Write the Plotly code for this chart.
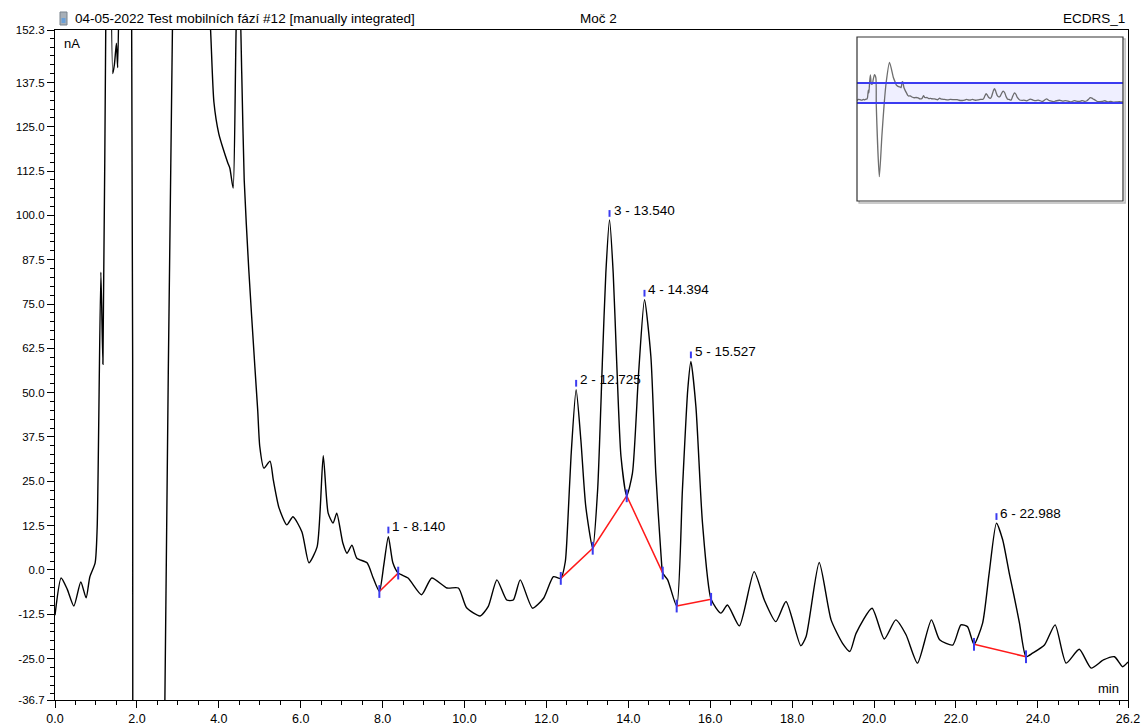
import plotly.graph_objects as go

# ---------------- data ----------------
time_min = [0.00, 0.15, 0.30, 0.46, 0.63, 0.76, 0.85, 0.98, 1.03, 1.12, 1.17, 1.25, 1.32, 1.41, 1.45,
            1.50, 1.53, 1.58, 1.72, 1.86, 1.90, 2.20, 2.45, 2.68, 2.87, 3.20, 3.60, 3.80, 3.88, 4.00,
            4.10, 4.22, 4.27, 4.35, 4.44, 4.50, 4.56, 4.62, 4.73, 4.88, 4.95, 5.00, 5.10, 5.25, 5.33,
            5.47, 5.66, 5.81, 6.03, 6.20, 6.40, 6.55, 6.67, 6.79, 6.88, 7.03, 7.13, 7.25, 7.37, 7.62,
            7.77, 7.92, 8.03, 8.14, 8.25, 8.38, 8.62, 8.95, 9.20, 9.57, 9.85, 10.05, 10.38, 10.58, 10.79,
            11.03, 11.19, 11.36, 11.66, 11.93, 12.17, 12.35, 12.46, 12.52, 12.60, 12.725, 12.84, 12.96, 13.13, 13.25,
            13.37, 13.45, 13.54, 13.63, 13.71, 13.82, 13.96, 14.10, 14.25, 14.394, 14.55, 14.67, 14.80, 14.84, 14.96,
            15.18, 15.32, 15.45, 15.527, 15.65, 15.81, 16.02, 16.26, 16.42, 16.71, 17.07, 17.32, 17.60, 17.85, 18.21,
            18.34, 18.66, 18.95, 19.23, 19.41, 19.56, 19.95, 20.25, 20.53, 20.78, 21.06, 21.40, 21.60, 21.92, 22.12,
            22.28, 22.44, 22.65, 22.81, 22.988, 23.14, 23.30, 23.42, 23.55, 23.71, 23.87, 24.16, 24.42, 24.69, 25.01,
            25.30, 25.60, 25.87, 26.07, 26.20]
signal_nA = [-12.8, -2.3, -5.5, -10.2, -3.4, -7.9, -2.0, 2.0, 12.0, 84.0, 58.0, 170.0, 228.0, 140.0, 142.5,
             148.6, 141.7, 175.0, 230.0, 200.0, -60.0, -733.0, -350.0, -40.0, 155.0, 348.0, 199.0, 152.0, 132.0, 123.0,
             119.0, 114.8, 113.3, 107.7, 160.0, 165.0, 140.0, 110.0, 85.0, 57.3, 45.0, 34.8, 28.7, 30.7, 25.4,
             17.5, 12.7, 15.0, 10.7, 2.0, 6.5, 32.2, 16.0, 13.2, 16.0, 7.5, 4.7, 7.0, 3.3, 2.0,
             -2.3, -6.1, 1.5, 9.4, 2.0, -0.9, -2.3, -7.0, -2.3, -5.1, -5.1, -10.7, -13.0, -10.3, -2.8,
             -8.5, -8.5, -2.8, -10.8, -8.0, -1.9, -2.4, 2.3, 13.2, 32.0, 50.8, 36.7, 17.9, 6.1, 22.6,
             60.2, 83.7, 98.7, 83.7, 60.2, 32.0, 20.9, 27.3, 55.5, 76.2, 60.2, 27.3, 3.8, -0.9, -2.8,
             -10.2, 22.6, 50.8, 58.8, 46.0, 13.2, -8.3, -12.2, -9.9, -15.8, -0.5, -8.5, -14.6, -8.9, -21.4,
             -18.8, 2.1, -14.1, -20.7, -23.0, -17.9, -10.8, -19.5, -14.1, -18.3, -26.3, -14.1, -19.7, -21.2, -15.5,
             -16.0, -21.0, -15.0, -0.9, 13.2, 8.5, -0.9, -7.5, -15.0, -24.5, -23.5, -21.2, -15.5, -26.3, -22.4,
             -27.7, -25.4, -24.5, -27.3, -26.0]

peak_numbers = [1, 2, 3, 4, 5, 6]
peak_times = [8.140, 12.725, 13.540, 14.394, 15.527, 22.988]
peak_heights = [9.4, 50.8, 98.7, 76.2, 58.8, 13.2]

# integration baselines (time, value) per segment group
baseline_groups = [
    ([7.92, 8.38], [-6.1, -0.9]),
    ([12.35, 13.13, 13.96, 14.84], [-2.4, 6.1, 20.9, -0.9]),
    ([15.18, 16.02], [-10.2, -8.3]),
    ([22.44, 23.71], [-21.0, -24.5]),
]

y_tick_vals = [-36.7, -25.0, -12.5, 0.0, 12.5, 25.0, 37.5, 50.0, 62.5, 75.0, 87.5, 100.0, 112.5, 125.0, 137.5, 152.3]
x_tick_vals = [0, 2, 4, 6, 8, 10, 12, 14, 16, 18, 20, 22, 24, 26.2]

Y_MIN, Y_MAX = -36.7, 152.3
X_MIN, X_MAX = 0.0, 26.2
INSET_Y = [-963, 587]

FONT = "Liberation Sans, Arial, sans-serif"
BLUE = "#3b3bf0"

fig = go.Figure()

# main chromatogram
fig.add_trace(go.Scatter(x=time_min, y=signal_nA, mode="lines",
                         line=dict(color="black", width=1.4, shape="spline", smoothing=0.6),
                         hoverinfo="skip", showlegend=False, cliponaxis=True))

# baselines
for bx, by in baseline_groups:
    fig.add_trace(go.Scatter(x=bx, y=by, mode="lines", line=dict(color="#ff1a1a", width=1.5),
                             showlegend=False, hoverinfo="skip"))

# blue delimiter ticks at baseline points and apexes
tx, ty = [], []
for bx, by in baseline_groups:
    for xx, yy in zip(bx, by):
        tx += [xx, xx, None]
        ty += [yy - 1.8, yy + 1.8, None]
for pt, ph in zip(peak_times, peak_heights):
    tx += [pt, pt, None]
    ty += [ph + 0.9, ph + 2.8, None]
fig.add_trace(go.Scatter(x=tx, y=ty, mode="lines", line=dict(color=BLUE, width=2),
                         showlegend=False, hoverinfo="skip"))

# peak labels
for n, pt, ph in zip(peak_numbers, peak_times, peak_heights):
    fig.add_annotation(x=pt, y=ph + 2.8, xref="x", yref="y", text=f"{n} - {pt:.3f}",
                       showarrow=False, xanchor="left", yanchor="middle", xshift=2,
                       font=dict(family=FONT, size=13.5, color="black"))

# inset overview
fig.add_trace(go.Scatter(x=time_min, y=signal_nA, mode="lines", xaxis="x2", yaxis="y2",
                         line=dict(color="#555555", width=1.3, shape="spline", smoothing=0.6),
                         opacity=0.85, showlegend=False, hoverinfo="skip"))

inset_x0, inset_x1 = (857 - 55) / 1073, (1123 - 55) / 1073
inset_y0, inset_y1 = (700 - 201) / 670, (700 - 37) / 670

fig.add_shape(type="rect", xref="x2", yref="y2", x0=X_MIN, x1=X_MAX, y0=Y_MIN, y1=Y_MAX,
              fillcolor="rgba(225,225,255,0.55)", line=dict(width=0), layer="below")
for yv in (Y_MIN, Y_MAX):
    fig.add_shape(type="line", xref="x2", yref="y2", x0=X_MIN, x1=X_MAX, y0=yv, y1=yv,
                  line=dict(color=BLUE, width=1.8))
# inset shadow + border
fig.add_shape(type="rect", xref="paper", yref="paper", x0=inset_x0 + 0.002, x1=inset_x1 + 0.002,
              y0=inset_y0 - 0.003, y1=inset_y1 - 0.003, line=dict(color="#bbbbbb", width=1.5), layer="below")
fig.add_shape(type="rect", xref="paper", yref="paper", x0=inset_x0, x1=inset_x1, y0=inset_y0, y1=inset_y1,
              line=dict(color="#333333", width=1.2), fillcolor="rgba(0,0,0,0)")

# header icon
fig.add_shape(type="rect", xref="paper", yref="paper", x0=(60 - 55) / 1073, x1=(67 - 55) / 1073,
              y0=(700 - 25) / 670, y1=(700 - 12) / 670, fillcolor="#a8b0b8", line=dict(color="#7a848e", width=1))
fig.add_shape(type="rect", xref="paper", yref="paper", x0=(61.5 - 55) / 1073, x1=(65.5 - 55) / 1073,
              y0=(700 - 23) / 670, y1=(700 - 18) / 670, fillcolor="#6aa0d8", line=dict(width=0))

# header texts
fig.add_annotation(x=(73 - 55) / 1073, y=(700 - 18.5) / 670, xref="paper", yref="paper",
                   text="04-05-2022 Test mobilních fází #12 [manually integrated]", showarrow=False,
                   xanchor="left", yanchor="middle", font=dict(family=FONT, size=13.5, color="black"))
fig.add_annotation(x=(598.5 - 55) / 1073, y=(700 - 18.5) / 670, xref="paper", yref="paper",
                   text="Moč 2", showarrow=False, xanchor="center", yanchor="middle",
                   font=dict(family=FONT, size=13.5, color="black"))
fig.add_annotation(x=(1127 - 55) / 1073, y=(700 - 18.5) / 670, xref="paper", yref="paper",
                   text="ECDRS_1", showarrow=False, xanchor="right", yanchor="middle",
                   font=dict(family=FONT, size=13.5, color="black"))
fig.add_annotation(x=(62 - 55) / 1073, y=(700 - 43) / 670, xref="paper", yref="paper",
                   text="nA", showarrow=False, xanchor="left", yanchor="middle",
                   font=dict(family=FONT, size=13, color="black"))
fig.add_annotation(x=(1121 - 55) / 1073, y=(700 - 688) / 670, xref="paper", yref="paper",
                   text="min", showarrow=False, xanchor="right", yanchor="middle",
                   font=dict(family=FONT, size=13, color="black"))

fig.update_layout(
    width=1145, height=727,
    margin=dict(l=55, r=17, t=30, b=27, autoexpand=False),
    paper_bgcolor="white", plot_bgcolor="white",
    showlegend=False,
    font=dict(family=FONT, color="black"),
    xaxis=dict(range=[X_MIN, X_MAX], tickmode="array", tickvals=x_tick_vals, automargin=False,
               ticktext=[f"{v:.1f}" for v in x_tick_vals], ticks="outside", ticklen=7,
               tickcolor="black", tickwidth=1, showline=True, linecolor="black", linewidth=1.3,
               mirror=True, showgrid=False, zeroline=False,
               tickfont=dict(family=FONT, size=12.5, color="black"),
               minor=dict(tickmode="linear", tick0=0, dtick=0.5, ticks="outside", ticklen=4,
                          tickcolor="black", showgrid=False)),
    yaxis=dict(range=[Y_MIN, Y_MAX], tickmode="array", tickvals=y_tick_vals, automargin=False,
               ticktext=[f"{v:.1f}" for v in y_tick_vals], ticks="outside", ticklen=7,
               tickcolor="black", tickwidth=1, showline=True, linecolor="black", linewidth=1.3,
               mirror=True, showgrid=False, zeroline=False,
               tickfont=dict(family=FONT, size=11.5, color="black"),
               minor=dict(tickmode="linear", tick0=0, dtick=2.5, ticks="outside", ticklen=4,
                          tickcolor="black", showgrid=False)),
    xaxis2=dict(domain=[inset_x0, inset_x1], range=[X_MIN, X_MAX], anchor="y2", visible=False,
                fixedrange=True, automargin=False),
    yaxis2=dict(domain=[inset_y0, inset_y1], range=INSET_Y, anchor="x2", visible=False,
                fixedrange=True, automargin=False),
)

fig.write_html("out.html")
